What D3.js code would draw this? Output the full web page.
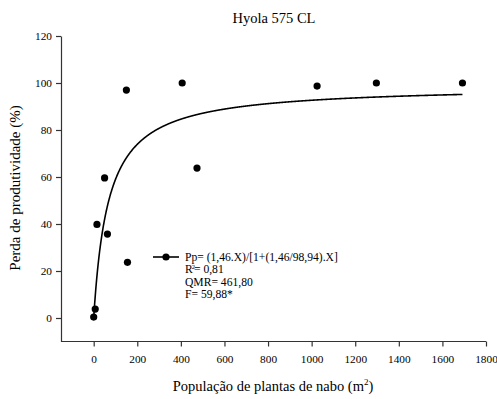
<!DOCTYPE html>
<html>
<head>
<meta charset="utf-8">
<script src="https://cdn.jsdelivr.net/npm/d3@7"></script>
<style>
	body { margin: 0; background: #fff; }
</style>
</head>
<body>
<svg width="497" height="399"></svg>
<script>
(function() {
	"use strict"

	// observed points (population, % yield loss)
	var population = [0, 7, 15, 50, 63, 150, 155, 406, 474, 1025, 1297, 1692],
		loss = [0.4, 3.8, 39.8, 59.6, 35.7, 97, 23.7, 100, 63.8, 98.7, 100, 100],
		xTicks = [0, 200, 400, 600, 800, 1000, 1200, 1400, 1600, 1800],
		yTicks = [0, 20, 40, 60, 80, 100, 120],
		// fitted hyperbolic model Pp = i.X / (1 + (i/a).X)
		coefI = 1.46,
		coefA = 98.94,
		curveFrom = 1,
		curveTo = 1692,
		legendLines = ["Pp= (1,46.X)/[1+(1,46/98,94).X]", "R", "QMR= 461,80", "F= 59,88*"];

	var serif = "Liberation Serif";

	var svg = d3.select("svg"),
		left = 61, right = 486, top = 36, bottom = 341.5;

	var x = d3.scaleLinear().domain([-150, 1800]).range([left, right]),
		y = d3.scaleLinear().domain([-10, 120]).range([bottom, top]);

	// x axis
	var xAxis = svg.append("g")
		.attr("transform", "translate(0," + bottom + ")")
		.call(d3.axisBottom(x).tickValues(xTicks).tickFormat(d3.format("d")).tickSize(5).tickPadding(8).tickSizeOuter(0));
	// y axis
	var yAxis = svg.append("g")
		.attr("transform", "translate(" + left + ",0)")
		.call(d3.axisLeft(y).tickValues(yTicks).tickFormat(d3.format("d")).tickSize(5).tickPadding(4).tickSizeOuter(0));

	[xAxis, yAxis].forEach(function(g) {
		g.attr("font-family", serif).attr("font-size", 11.3);
		g.selectAll("text").attr("fill", "#000");
		g.selectAll("line, path").attr("stroke", "#333").attr("stroke-width", 1.2);
	});
	// extend the x axis line to meet the y axis
	xAxis.select("path").attr("d", "M" + left + ",0H" + right);

	// fitted curve
	var curveData = d3.range(curveFrom, curveTo + 1, 1).map(function(v) {
		return [v, coefI * v / (1 + (coefI / coefA) * v)];
	});
	svg.append("path")
		.datum(curveData)
		.attr("fill", "none")
		.attr("stroke", "#000")
		.attr("stroke-width", 1.6)
		.attr("d", d3.line()
			.x(function(d) { return x(d[0]); })
			.y(function(d) { return y(d[1]); }));

	// points
	svg.selectAll("circle.pt")
		.data(population)
		.enter()
		.append("circle")
			.attr("class", "pt")
			.attr("cx", function(d) { return x(d); })
			.attr("cy", function(d, i) { return y(loss[i]); })
			.attr("r", 3.6)
			.attr("fill", "#000");

	// legend
	var legend = svg.append("g").attr("font-family", serif);
	legend.append("line")
		.attr("x1", 153).attr("x2", 179).attr("y1", 257).attr("y2", 257)
		.attr("stroke", "#000").attr("stroke-width", 1.6);
	legend.append("circle").attr("cx", 166).attr("cy", 257).attr("r", 3.6).attr("fill", "#000");
	legend.selectAll("text")
		.data(legendLines)
		.enter()
		.append("text")
			.attr("x", 185)
			.attr("y", function(d, i) { return 260.5 + i * 12.5; })
			.attr("font-size", 11.6)
			.each(function(d, i) {
				var t = d3.select(this);
				if (i === 1) {
					t.append("tspan").text("R");
					t.append("tspan").attr("dy", -4).attr("dx", -1).attr("font-size", 6.5).text("2");
					t.append("tspan").attr("dy", 4).attr("dx", -1).text("= 0,81");
				} else {
					t.text(d);
				}
			});

	// title and labels
	svg.append("text")
		.attr("x", 274).attr("y", 23)
		.attr("text-anchor", "middle")
		.attr("font-family", serif)
		.attr("font-size", 14.5)
		.text("Hyola 575 CL");

	var xl = svg.append("text")
		.attr("x", 273).attr("y", 391)
		.attr("text-anchor", "middle")
		.attr("font-family", serif)
		.attr("font-size", 14.5);
	xl.append("tspan").text("População de plantas de nabo (m");
	xl.append("tspan").attr("dy", -6).attr("font-size", 9).text("2");
	xl.append("tspan").attr("dy", 6).text(")");

	svg.append("text")
		.attr("transform", "translate(20,188) rotate(-90)")
		.attr("text-anchor", "middle")
		.attr("font-family", serif)
		.attr("font-size", 15)
		.text("Perda de produtividade (%)");
})();
</script>
</body>
</html>
